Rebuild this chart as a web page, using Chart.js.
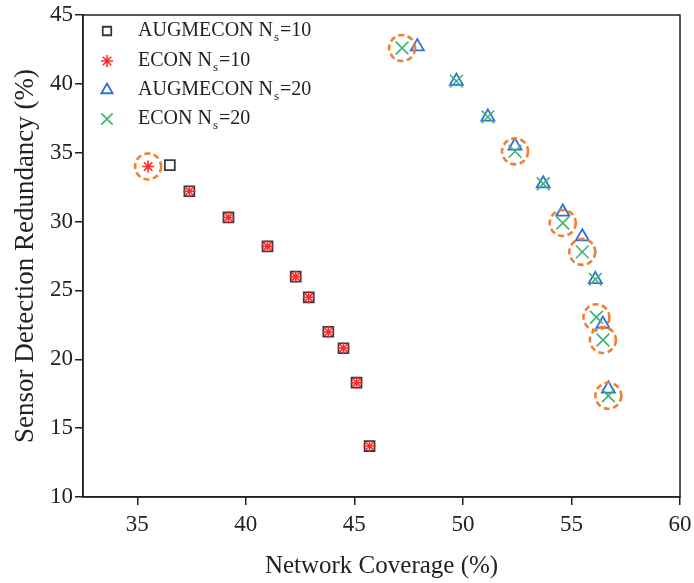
<!DOCTYPE html>
<html>
<head>
<meta charset="utf-8">
<script src="https://cdn.jsdelivr.net/npm/chart.js@4.4.1/dist/chart.umd.min.js"></script>
<style>
  html, body { margin: 0; padding: 0; background: #fff; }
  #wrap { width: 694px; height: 583px; }
</style>
</head>
<body>
<div id="wrap"><canvas id="c" width="694" height="583"></canvas></div>
<script>
// Pareto fronts: network coverage (%) vs sensor detection redundancy (%)
const augmecon10X = [36.5, 37.4, 39.2, 41.0, 42.3, 42.9, 43.8, 44.5, 45.1, 45.7];
const augmecon10Y = [34.1, 32.2, 30.3, 28.2, 26.0, 24.5, 22.0, 20.8, 18.3, 13.7];
const econ10X     = [35.5, 37.4, 39.2, 41.0, 42.3, 42.9, 43.8, 44.5, 45.1, 45.7];
const econ10Y     = [34.0, 32.2, 30.3, 28.2, 26.0, 24.5, 22.0, 20.8, 18.3, 13.7];
const augmecon20X = [47.9, 49.7, 51.15, 52.4, 53.7, 54.6, 55.5, 56.1, 56.45, 56.7];
const augmecon20Y = [42.7, 40.2, 37.6, 35.5, 32.75, 30.7, 28.9, 25.8, 22.55, 17.85];
const econ20X     = [47.2, 49.7, 51.15, 52.4, 53.7, 54.6, 55.5, 56.1, 56.15, 56.45, 56.7];
const econ20Y     = [42.6, 40.2, 37.6, 35.1, 32.75, 29.9, 27.8, 25.8, 23.05, 21.4, 17.35];
// ECON solutions marked with dashed rings (indices into the ECON series)
const ringedEcon10 = [0];
const ringedEcon20 = [0, 3, 5, 6, 8, 9, 10];
const xTicks = [35, 40, 45, 50, 55, 60];
const yTicks = [10, 15, 20, 25, 30, 35, 40, 45];
const seriesNames = ['AUGMECON N|s|=10', 'ECON N|s|=10', 'AUGMECON N|s|=20', 'ECON N|s|=20'];

const FONT = '"Liberation Serif", "Times New Roman", serif';
const INK = '#222222';

function pts(xs, ys) { return xs.map((x, i) => ({ x: x, y: ys[i] })); }

const ringPoints = ringedEcon10.map(i => ({ x: econ10X[i], y: econ10Y[i] }))
  .concat(ringedEcon20.map(i => ({ x: econ20X[i], y: econ20Y[i] })));

const datasets = [
  { label: seriesNames[1], data: pts(econ10X, econ10Y), pointStyle: 'star', pointRadius: 6,
    borderColor: '#ff2b2b', backgroundColor: '#ff2b2b', pointBorderWidth: 1.6, order: 1 },
  { label: seriesNames[0], data: pts(augmecon10X, augmecon10Y), pointStyle: 'rect', pointRadius: 7,
    borderColor: '#3a3a3a', backgroundColor: 'rgba(0,0,0,0)', pointBorderWidth: 1.8, order: 2 },
  { label: seriesNames[3], data: pts(econ20X, econ20Y), pointStyle: 'crossRot', pointRadius: 9,
    borderColor: '#3cb371', backgroundColor: '#3cb371', pointBorderWidth: 1.6, order: 3 },
  { label: seriesNames[2], data: pts(augmecon20X, augmecon20Y), pointStyle: 'triangle', pointRadius: 7.5,
    borderColor: '#2f6fdc', backgroundColor: 'rgba(0,0,0,0)', pointBorderWidth: 1.8, order: 4 },
  { label: 'rings', data: ringPoints, pointRadius: 0, pointHoverRadius: 0, showLine: false, order: 0 }
];

// dashed orange rings drawn at the positions of the "rings" dataset
const ringPlugin = {
  id: 'rings',
  afterDatasetsDraw(chart) {
    const ctx = chart.ctx;
    const idx = chart.data.datasets.findIndex(d => d.label === 'rings');
    const meta = chart.getDatasetMeta(idx);
    ctx.save();
    ctx.strokeStyle = '#ee8034';
    ctx.lineWidth = 2.6;
    ctx.setLineDash([6, 3.5]);
    meta.data.forEach(el => {
      ctx.beginPath();
      ctx.arc(el.x, el.y, 13, 0, Math.PI * 2);
      ctx.stroke();
    });
    ctx.restore();
  }
};

// box frame around the plotting area
const framePlugin = {
  id: 'frame',
  afterDraw(chart) {
    const a = chart.chartArea, ctx = chart.ctx;
    ctx.save();
    ctx.strokeStyle = INK;
    ctx.lineWidth = 1.5;
    ctx.strokeRect(a.left, a.top, a.right - a.left, a.bottom - a.top);
    ctx.restore();
  }
};

// legend with subscripted text, inside the top-left corner
const legendPlugin = {
  id: 'subLegend',
  afterDraw(chart) {
    const ctx = chart.ctx;
    const order = [1, 0, 3, 2]; // dataset index for each legend row
    const rowsY = [31, 61, 90, 119];
    const markerX = 107, textX = 138;
    const legendRadius = { rect: 6, star: 6, triangle: 6.5, crossRot: 8 };
    ctx.save();
    order.forEach((di, r) => {
      const ds = chart.data.datasets[di];
      const y = rowsY[r];
      ctx.save();
      ctx.strokeStyle = ds.borderColor;
      ctx.fillStyle = ds.backgroundColor;
      ctx.lineWidth = ds.pointBorderWidth;
      Chart.helpers.drawPoint(ctx, {
        pointStyle: ds.pointStyle, radius: legendRadius[ds.pointStyle],
        rotation: 0, borderWidth: ds.pointBorderWidth
      }, markerX, y);
      ctx.restore();
      const parts = ds.label.split('|');
      let x = textX;
      ctx.fillStyle = INK;
      ctx.textBaseline = 'middle';
      ctx.textAlign = 'left';
      parts.forEach((p, k) => {
        if (k === 1) {
          ctx.font = '13px ' + FONT;
          ctx.fillText(p, x + 1, y + 7);
          x += ctx.measureText(p).width + 2;
        } else {
          ctx.font = '20px ' + FONT;
          ctx.fillText(p, x, y);
          x += ctx.measureText(p).width;
        }
      });
    });
    ctx.restore();
  }
};

const axisCommon = {
  type: 'linear',
  grid: { display: true, drawOnChartArea: false, drawTicks: true, tickLength: 8, color: INK, lineWidth: 1.5 },
  border: { display: true, color: INK, width: 1.5 },
};

new Chart(document.getElementById('c'), {
  type: 'scatter',
  data: { datasets: datasets },
  plugins: [ringPlugin, framePlugin, legendPlugin],
  options: {
    responsive: false,
    animation: false,
    events: [],
    layout: { padding: { left: 0, right: 14, top: 15, bottom: 0 } },
    plugins: { legend: { display: false }, tooltip: { enabled: false } },
    scales: {
      x: Object.assign({}, axisCommon, {
        min: 32.5, max: 60,
        afterBuildTicks: s => { s.ticks = xTicks.map(v => ({ value: v })); },
        afterFit: s => { s.height = 86; s.paddingLeft = 0; s.paddingRight = 0; },
        ticks: { font: { family: FONT, size: 23 }, color: INK, padding: 6, maxRotation: 0 },
        title: { display: true, text: 'Network Coverage (%)', font: { family: FONT, size: 25 }, color: INK, padding: { top: 6, bottom: 2 } }
      }),
      y: Object.assign({}, axisCommon, {
        min: 10, max: 45,
        afterBuildTicks: s => { s.ticks = yTicks.map(v => ({ value: v })); },
        afterFit: s => { s.width = 83; s.paddingTop = 0; s.paddingBottom = 0; },
        ticks: { font: { family: FONT, size: 23 }, color: INK, padding: 2 },
        title: { display: true, text: 'Sensor Detection Redundancy (%)', font: { family: FONT, size: 27 }, color: INK, padding: { top: 10, bottom: 4 } }
      })
    }
  }
});
</script>
</body>
</html>
